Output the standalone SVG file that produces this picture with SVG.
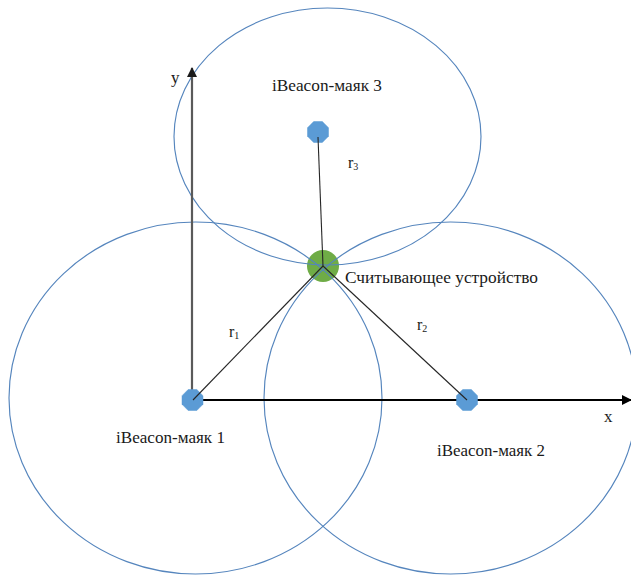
<svg xmlns="http://www.w3.org/2000/svg" xmlns:xlink="http://www.w3.org/1999/xlink" width="631" height="576" viewBox="0 0 631 576">
<style>
.zone{fill:none;stroke:#5585bd;stroke-width:1.15}
.beacon{fill:#5b9bd5;stroke:#5b9bd5;stroke-width:0.5}
.reader{fill:#6fac46}
.ray{stroke:#262626;stroke-width:1.1;fill:none}
.lbl{font-family:"Liberation Serif","Times New Roman",serif;fill:#1a1a1a}
</style>
<defs>
<polygon id="oct" points="-4.3,-10.5 4.3,-10.5 10.5,-4.3 10.5,4.3 4.3,10.5 -4.3,10.5 -10.5,4.3 -10.5,-4.3"/>
<marker id="arrY" markerWidth="10" markerHeight="10" refX="9" refY="5" orient="auto" markerUnits="userSpaceOnUse"><path d="M0,0 L10,5 L0,10 z" fill="#1a1a1a"/></marker>
<marker id="arrX" markerWidth="10" markerHeight="10" refX="9" refY="5" orient="auto" markerUnits="userSpaceOnUse"><path d="M0,0 L10,5 L0,10 z" fill="#000"/></marker>
</defs>
<rect width="631" height="576" fill="#fff"/>
<g id="reader">
<circle class="reader" cx="323" cy="266" r="16"/>
<text class="lbl" x="345" y="283" font-size="17" textLength="193" lengthAdjust="spacingAndGlyphs">Считывающее устройство</text>
</g>
<g id="zones">
<ellipse class="zone" cx="195.5" cy="398" rx="186.5" ry="176"/>
<ellipse class="zone" cx="450.5" cy="398" rx="186.5" ry="176"/>
<ellipse class="zone" cx="327.5" cy="136.5" rx="153.5" ry="128.5"/>
</g>
<g id="axes">
<line x1="192" y1="400" x2="192" y2="68" stroke="#5a5a5a" stroke-width="2.2" marker-end="url(#arrY)"/>
<line x1="192" y1="400" x2="631" y2="400" stroke="#000" stroke-width="2" marker-end="url(#arrX)"/>
<text class="lbl" x="171" y="83" font-size="17">y</text>
<text class="lbl" x="604" y="422" font-size="17">x</text>
</g>
<g id="beacon1">
<use xlink:href="#oct" href="#oct" class="beacon" x="192.5" y="400"/>
<text class="lbl" x="116" y="443" font-size="16.5" textLength="109" lengthAdjust="spacingAndGlyphs">iBeacon-маяк 1</text>
</g>
<g id="beacon2">
<use xlink:href="#oct" href="#oct" class="beacon" x="467" y="400"/>
<text class="lbl" x="437" y="456" font-size="16.5" textLength="108" lengthAdjust="spacingAndGlyphs">iBeacon-маяк 2</text>
</g>
<g id="beacon3">
<use xlink:href="#oct" href="#oct" class="beacon" x="318" y="132"/>
<text class="lbl" x="272" y="91" font-size="16.5" textLength="110" lengthAdjust="spacingAndGlyphs">iBeacon-маяк 3</text>
</g>
<g id="connectors">
<line class="ray" x1="323" y1="266" x2="193" y2="400"/>
<line class="ray" x1="323" y1="266" x2="467" y2="400"/>
<line class="ray" x1="323" y1="266" x2="318" y2="137"/>
</g>
<g id="labels">
<text class="lbl" x="229" y="337" font-size="16">r<tspan font-size="10" dy="2">1</tspan></text>
<text class="lbl" x="417" y="330" font-size="16">r<tspan font-size="10" dy="2">2</tspan></text>
<text class="lbl" x="348" y="168" font-size="16">r<tspan font-size="10" dy="2">3</tspan></text>
</g>
</svg>
